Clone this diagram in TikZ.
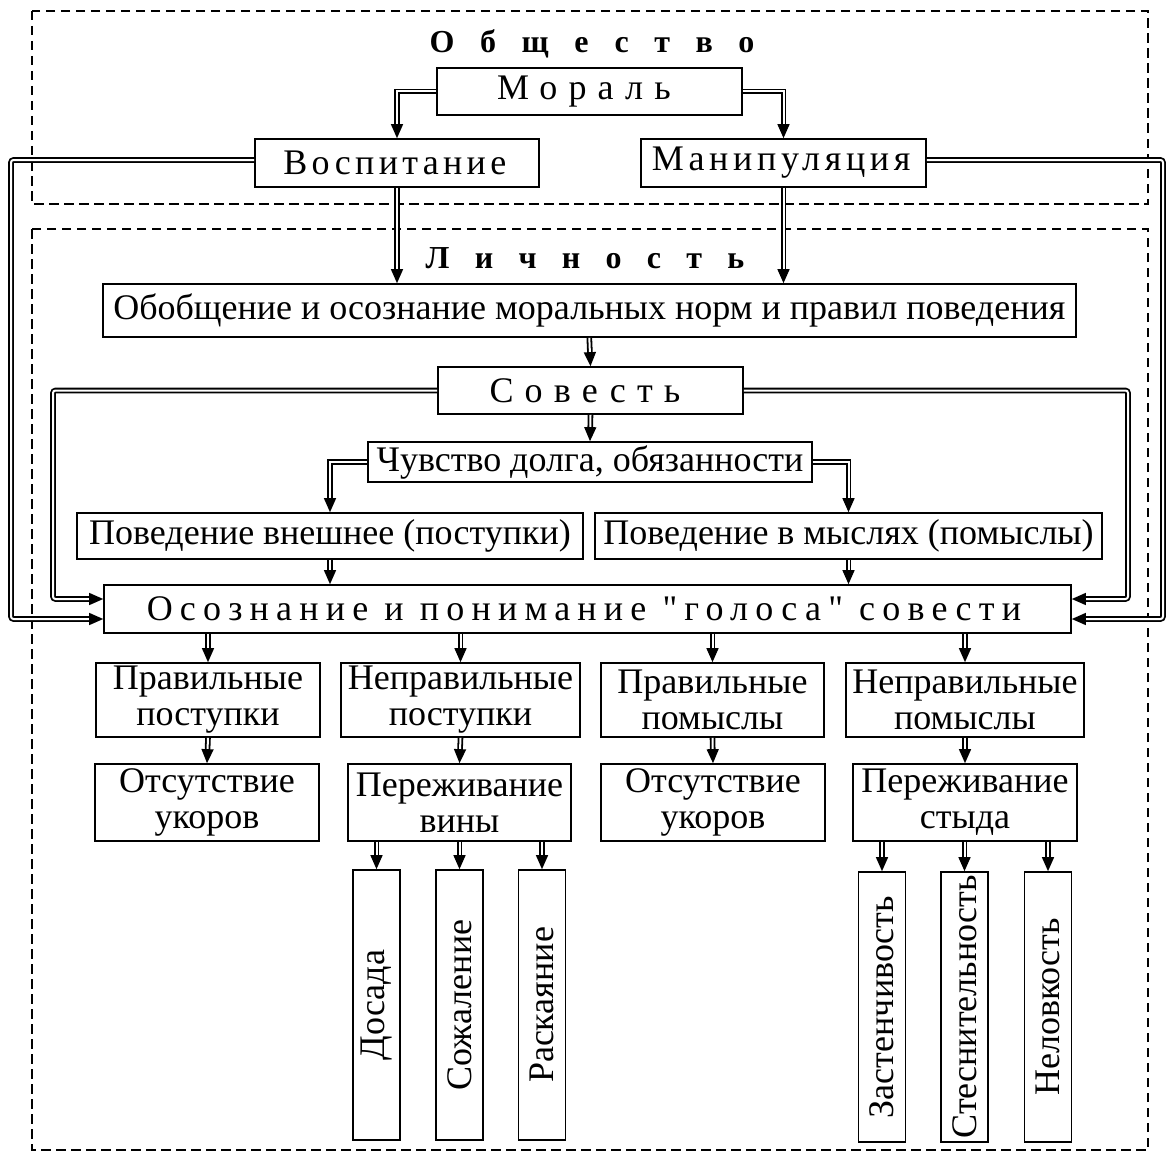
\documentclass[tikz,border=0pt]{standalone}
\usepackage{fontspec}
\usepackage{graphicx}
\setmainfont{Liberation Serif}[Ligatures=TeXOff]
\usetikzlibrary{decorations.markings}
% letter-spaced text; the leading kern cancels the extra space XeTeX puts before the first letter
\newcommand{\lsp}[2]{{\addfontfeatures{LetterSpace=#1}\kern-0.#1em#2}}
\newcommand{\lsph}[2]{{\addfontfeatures{LetterSpace=#1}#2}}
\begin{document}
\begin{tikzpicture}[x=1pt,y=-1pt,
  txt/.style={font=\fontsize{36}{36}\selectfont},
  box/.style={draw, line width=1.7pt, inner sep=0pt, align=center, txt},
  hdr/.style={anchor=base, inner sep=0pt, font=\fontsize{32}{34}\selectfont\bfseries},
  tipend/.style={postaction={decorate, decoration={markings,
      mark=at position 1 with {\fill[sharp corners] (0pt,0pt) -- (-14pt,6.2pt) -- (-14pt,-6.2pt) -- cycle;}}}},
  dbl/.style={draw, double=white, double distance=2pt, line width=1.8pt, shorten >=12pt, tipend},
  wire/.style={dbl, rounded corners=2.5pt},
  area/.style={draw, line width=2.2pt, dash pattern=on 9.5pt off 5.5pt}
]
\useasboundingbox (0,0) rectangle (1167,1153);
% areas
\draw[area] (32,11) rectangle (1148,204);
\draw[area] (32,229) rectangle (1148,1150);
% headers
\node[hdr] (tsoc) at (592,53) {\lsph{80}{Общество}};
\node[hdr] (tlich) at (585,268) {\lsph{79}{Личность}};
% boxes
\node[box, minimum width=305, minimum height=47] (moral) at (589.5,91.4) {\lsp{31}{Мораль}};
\node[box, minimum width=284, minimum height=48] (vosp) at (397,163) {\lsp{12}{Воспитание}};
\node[box, minimum width=285, minimum height=48] (manip) at (783.5,163) {\lsp{13}{Манипуляция}};
\node[box, minimum width=973, minimum height=53] (obob) at (589.3,310.5) {Обобщение и осознание моральных норм и правил поведения};
\node[box, minimum width=305, minimum height=47] (sov) at (590.5,390.5) {\lsp{31}{Совесть}};
\node[box, minimum width=444, minimum height=40] (chuv) at (590,462) {Чувство долга, обязанности};
\node[box, minimum width=506, minimum height=46] (povv) at (330,536) {Поведение внешнее (поступки)};
\node[box, minimum width=507, minimum height=46] (povm) at (848.5,536) {Поведение в мыслях (помыслы)};
\node[box, minimum width=967, minimum height=48] (osoz) at (587.5,609) {\lsp{20}{Осознание и понимание "голоса" совести}};
\node[box, minimum width=224, minimum height=74] (pp) at (208,700) {Правильные\\поступки};
\node[box, minimum width=239, minimum height=74] (np) at (460.5,700) {Неправильные\\поступки};
\node[box, minimum width=223, minimum height=74] (ppm) at (712.5,700) {Правильные\\помыслы};
\node[box, minimum width=238, minimum height=74] (npm) at (965,700) {Неправильные\\помыслы};
\node[box, minimum width=224, minimum height=77] (ou1) at (207,802.5) {Отсутствие\\укоров};
\node[box, minimum width=223, minimum height=77] (pv) at (459.5,802.5) {Переживание\\вины};
\node[box, minimum width=224, minimum height=77] (ou2) at (713,802.5) {Отсутствие\\укоров};
\node[box, minimum width=224, minimum height=77] (ps) at (965,802.5) {Переживание\\стыда};
\node[box, minimum width=47, minimum height=270] (dos) at (376.5,1005) {\rotatebox{90}{Досада}};
\node[box, minimum width=47, minimum height=270] (soz) at (459.5,1005) {\rotatebox{90}{Сожаление}};
\node[box, minimum width=47, minimum height=270] (rask) at (542,1005) {\rotatebox{90}{Раскаяние}};
\node[box, minimum width=47, minimum height=270] (zast) at (882,1007) {\rotatebox{90}{Застенчивость}};
\node[box, minimum width=47, minimum height=270] (stes) at (964.5,1007) {\rotatebox{90}{Стеснительность}};
\node[box, minimum width=47, minimum height=270] (nelov) at (1048,1007) {\rotatebox{90}{Неловкость}};
% connectors
\draw[dbl] (moral.west) -| (vosp.north);
\draw[dbl] (moral.east) -| (manip.north);
\draw[dbl] (vosp.south) -- (vosp.south |- obob.north);
\draw[dbl] (manip.south) -- (manip.south |- obob.north);
\draw[dbl] (obob.south) -- (sov.north);
\draw[dbl] (sov.south) -- (chuv.north);
\draw[dbl] (chuv.west) -| (povv.north);
\draw[dbl] (chuv.east) -| (povm.north);
\draw[dbl] (povv.south) -- (povv.south |- osoz.north);
\draw[dbl] (povm.south) -- (povm.south |- osoz.north);
\draw[wire] (sov.west) -| (53,599) -- ([yshift=10pt]osoz.west);
\draw[wire] (sov.east) -| (1128,599) -- ([yshift=10pt]osoz.east);
\draw[wire] ([yshift=3pt]vosp.west) -| (11,619) -- ([yshift=-10pt]osoz.west);
\draw[wire] ([yshift=3pt]manip.east) -| (1163,619) -- ([yshift=-10pt]osoz.east);
\foreach \n in {pp,np,ppm,npm} \draw[dbl] (osoz.south -| \n.north) -- (\n.north);
\draw[dbl] (pp.south) -- (ou1.north);
\draw[dbl] (np.south) -- (pv.north);
\draw[dbl] (ppm.south) -- (ou2.north);
\draw[dbl] (npm.south) -- (ps.north);
\foreach \n in {dos,soz,rask} \draw[dbl] (pv.south -| \n.north) -- (\n.north);
\foreach \n in {zast,stes,nelov} \draw[dbl] (ps.south -| \n.north) -- (\n.north);
\end{tikzpicture}
\end{document}
